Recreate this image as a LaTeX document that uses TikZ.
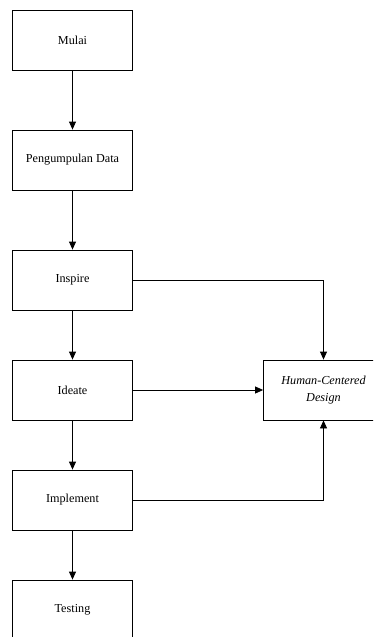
\documentclass[tikz,border=0pt]{standalone}
\usepackage{fontspec}
\setmainfont{Liberation Serif}
\usetikzlibrary{arrows.meta}
\begin{document}
\begin{tikzpicture}[x=1pt,y=-1pt,
  box/.style={draw,line width=0.8pt,minimum width=120pt,minimum height=60pt,inner sep=0pt,align=center,font=\fontsize{12.2}{16.5}\selectfont},
  arr/.style={line width=0.8pt,-{Triangle[width=7pt,length=8pt]}},
  ln/.style={line width=0.8pt}]
\useasboundingbox (0,0) rectangle (373,637);
\clip (0,0) rectangle (373,637);
\node[box] (mulai) at (72.5,40) {Mulai};
\node[box] (data) at (72.5,160) {Pengumpulan Data};
\node[box] (inspire) at (72.5,280) {Inspire};
\node[box] (ideate) at (72.5,390) {Ideate};
\node[box] (impl) at (72.5,500) {Implement};
\node[box] (test) at (72.5,610) {Testing};
\node[box] (hcd) at (323.5,390) {\itshape Human-Centered\\\itshape Design};
\draw[arr] (mulai) -- (data);
\draw[arr] (data) -- (inspire);
\draw[arr] (inspire) -- (ideate);
\draw[arr] (ideate) -- (impl);
\draw[arr] (impl) -- (test);
\draw[arr] (inspire.east) -| (hcd.north);
\draw[arr] (ideate.east) -- (hcd.west);
\draw[arr] (impl.east) -| (hcd.south);
\end{tikzpicture}
\end{document}
